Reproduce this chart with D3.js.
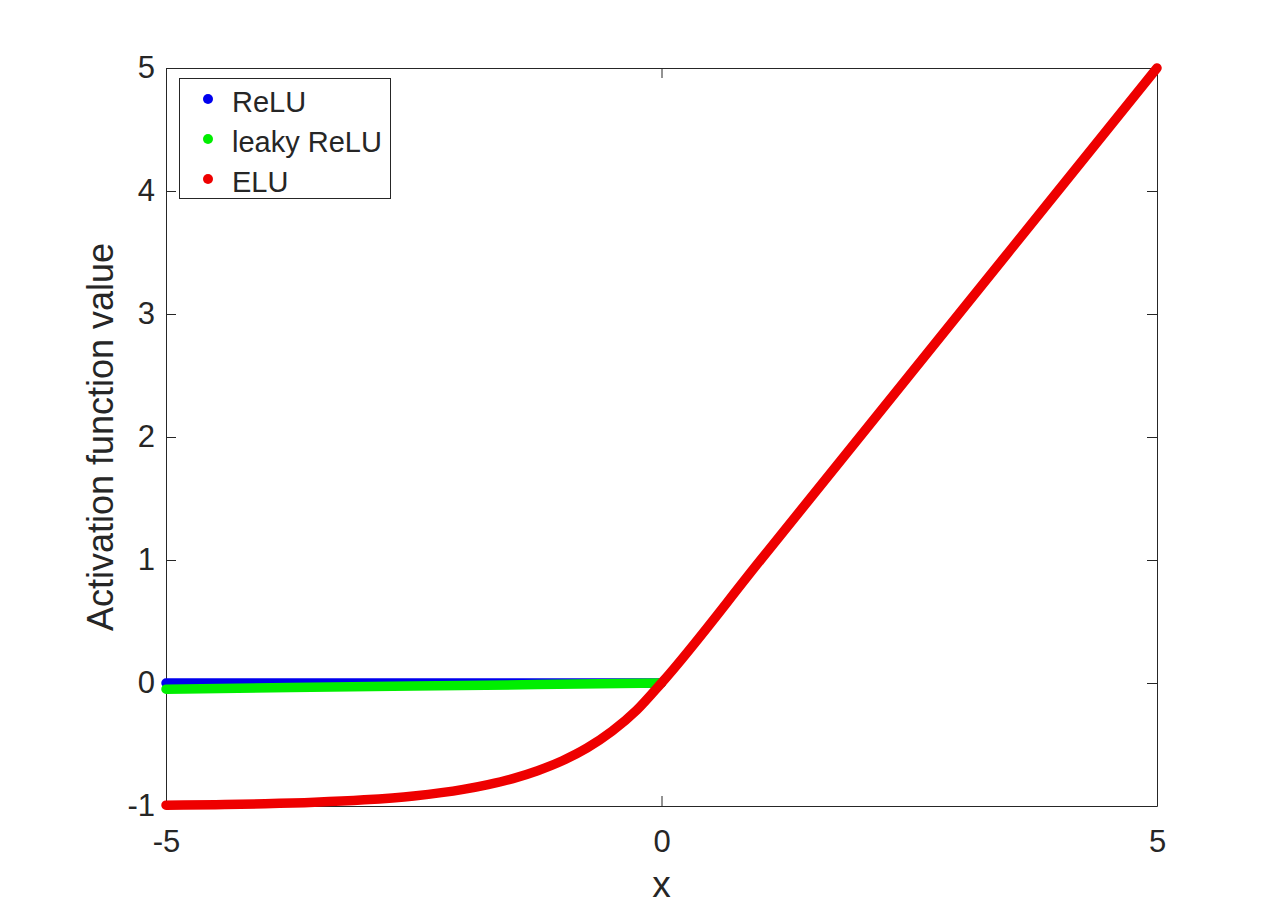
<!DOCTYPE html>
<html><head><meta charset="utf-8">
<script src="https://cdn.jsdelivr.net/npm/d3@7"></script>
<style>body{margin:0;background:#fff}svg{display:block}text{font-family:"Liberation Sans",Arial,sans-serif;fill:#262626}</style>
</head><body>
<svg id="c" width="1280" height="907"></svg>
<script>
const seriesNames = ["ReLU", "leaky ReLU", "ELU"];
const seriesColors = ["#0000ee", "#00ee00", "#ee0000"];
const xTicks = [-5, 0, 5];
const yTicks = [-1, 0, 1, 2, 3, 4, 5];
// values
const reluX = [-5, -2.5, 0];
const reluY = [0, 0, 0];
const leakyX = [-5, -2.5, 0];
const leakyY = [-0.05, -0.025, 0];
const eluX = [-5, -4.5, -4, -3.5, -3, -2.5, -2, -1.75, -1.5, -1.25, -1, -0.75, -0.5, -0.25, 0, 1, 2, 3, 4, 5];
const eluY = [-0.993, -0.989, -0.982, -0.97, -0.95, -0.918, -0.865, -0.826, -0.777, -0.713, -0.632, -0.528, -0.393, -0.221, 0, 1, 2, 3, 4, 5];

const svg = d3.select("#c");
const L = 166, R = 1157, T = 68, B = 806;
const x = d3.scaleLinear().domain([-5, 5]).range([L, R]);
const y = d3.scaleLinear().domain([-1, 5]).range([B, T]);
const axCol = "#262626";
const FF = "Liberation Sans, Arial, sans-serif";

const fmt = d => d3.format("d")(d).replace("−", "-");
svg.append("g").attr("transform", `translate(0,${B})`)
  .call(d3.axisBottom(x).tickValues(xTicks).tickSizeInner(-10).tickSizeOuter(0).tickPadding(24).tickFormat(fmt))
  .call(g => { g.select(".domain").attr("stroke", axCol); g.selectAll("line").attr("stroke", axCol);
    g.selectAll("text").attr("font-size", 31).attr("fill", axCol).attr("font-family", FF); });
svg.append("g").attr("transform", `translate(0,${T})`)
  .call(d3.axisTop(x).tickValues(xTicks).tickSizeInner(-10).tickSizeOuter(0).tickFormat(""))
  .call(g => { g.select(".domain").attr("stroke", axCol); g.selectAll("line").attr("stroke", axCol); });
svg.append("g").attr("transform", `translate(${L},0)`)
  .call(d3.axisLeft(y).tickValues(yTicks).tickSizeInner(-10).tickSizeOuter(0).tickPadding(11).tickFormat(fmt))
  .call(g => { g.select(".domain").attr("stroke", axCol); g.selectAll("line").attr("stroke", axCol);
    g.selectAll("text").attr("font-size", 31).attr("fill", axCol).attr("font-family", FF); });
svg.append("g").attr("transform", `translate(${R},0)`)
  .call(d3.axisRight(y).tickValues(yTicks).tickSizeInner(-10).tickSizeOuter(0).tickFormat(""))
  .call(g => { g.select(".domain").attr("stroke", axCol); g.selectAll("line").attr("stroke", axCol); });

// axis labels
svg.append("text").attr("x", (L + R) / 2).attr("y", 897).attr("text-anchor", "middle").attr("font-size", 37).text("x");
svg.append("text").attr("transform", `translate(113,${(T + B) / 2}) rotate(-90)`).attr("text-anchor", "middle").attr("font-size", 36).text("Activation function value");

// series
const data = [
  {xs: reluX, ys: reluY},
  {xs: leakyX, ys: leakyY},
  {xs: eluX, ys: eluY}
];
const line = d3.line().x(d => x(d[0])).y(d => y(d[1])).curve(d3.curveMonotoneX);
data.forEach((s, i) => {
  svg.append("path").datum(d3.zip(s.xs, s.ys)).attr("d", line)
    .attr("fill", "none").attr("stroke", seriesColors[i]).attr("stroke-width", 9.5)
    .attr("stroke-linecap", "round").attr("stroke-linejoin", "round");
});

// legend
const lg = svg.append("g");
lg.append("rect").attr("x", 179.5).attr("y", 78.5).attr("width", 211).attr("height", 120)
  .attr("fill", "#fff").attr("stroke", axCol).attr("stroke-width", 1);
seriesNames.forEach((n, i) => {
  const cy = 99 + i * 40;
  lg.append("circle").attr("cx", 208).attr("cy", cy).attr("r", 5).attr("fill", seriesColors[i]);
  lg.append("text").attr("x", 232).attr("y", cy + 13).attr("font-size", 29).text(n);
});
</script>
</body></html>
